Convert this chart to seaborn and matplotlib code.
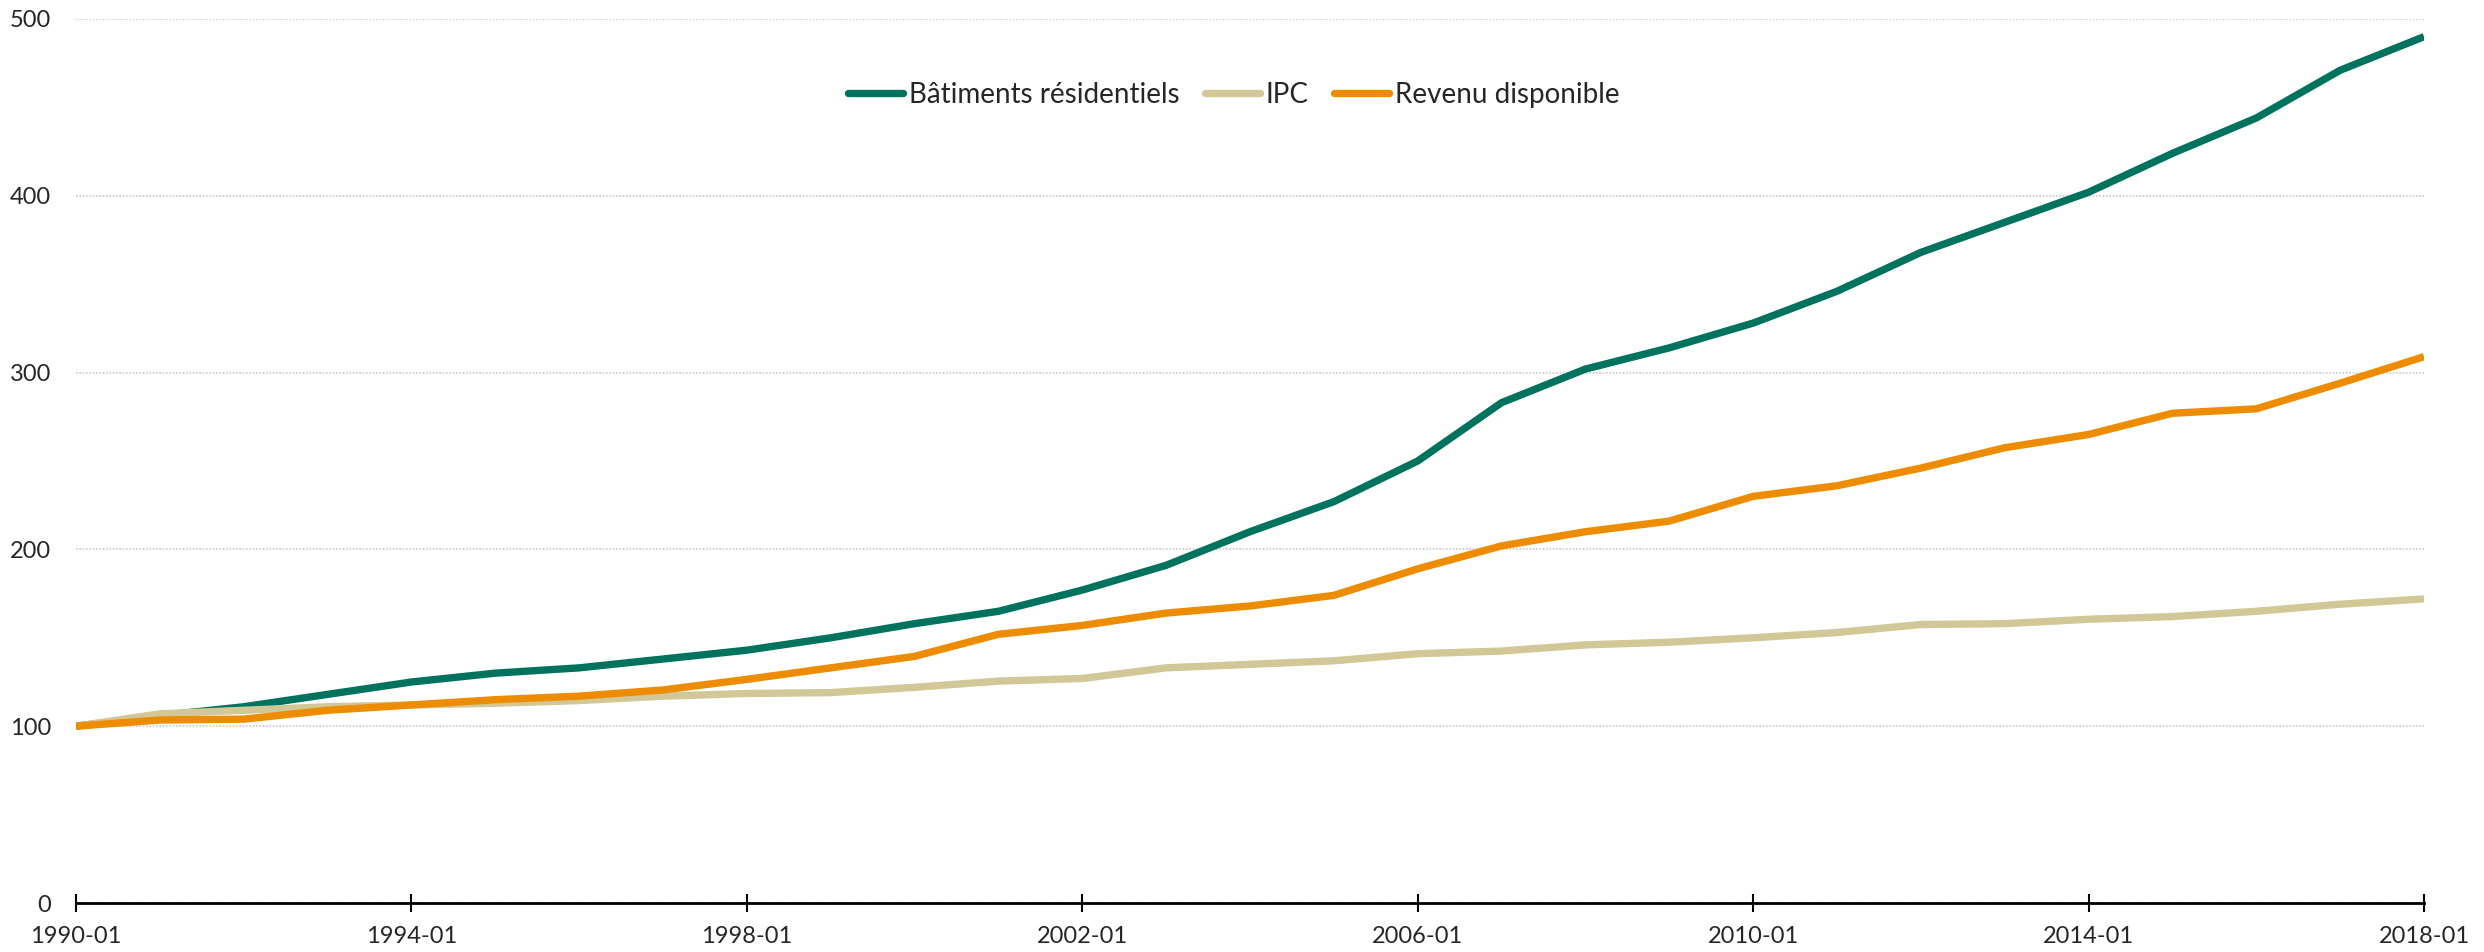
import matplotlib
matplotlib.use("Agg")
import matplotlib.pyplot as plt
import seaborn as sns
import pandas as pd

years = list(range(1990, 2019))

batiments = [100, 106, 111, 118, 125, 130, 133, 138, 143, 150, 158, 165, 177, 191,
             210, 227, 250, 283, 302, 314, 328, 346, 368, 385, 402, 424, 444, 471, 490]
ipc = [100, 107, 109, 111, 112, 113, 114.5, 117, 118.5, 119, 122, 125.5, 127, 133,
       135, 137, 141, 142.5, 146, 147.5, 150, 153, 157.5, 158, 160.5, 162, 165, 169, 172]
revenu = [100, 103.5, 104, 109, 112, 115, 117, 120.5, 126.5, 133, 139.5, 152, 157, 164,
          168, 174, 189, 202, 210, 216, 230, 236, 246, 257.5, 265, 277, 279.5, 294, 309]

series_names = ["Bâtiments résidentiels", "IPC", "Revenu disponible"]
colors = ["#00735F", "#D1C797", "#EE8C00"]
x_ticks = [1990, 1994, 1998, 2002, 2006, 2010, 2014, 2018]
x_labels = [f"{y}-01" for y in x_ticks]
y_ticks = [0, 100, 200, 300, 400, 500]

df = pd.DataFrame({"annee": years,
                   series_names[0]: batiments,
                   series_names[1]: ipc,
                   series_names[2]: revenu})
long = df.melt(id_vars="annee", var_name="serie", value_name="indice")

sns.set_style("white")
plt.rcParams["font.family"] = ["Lato", "DejaVu Sans"]

fig = plt.figure(figsize=(24.84, 9.52), dpi=100)
ax = fig.add_axes([76 / 2484, 1 - 903 / 952, 2348 / 2484, 884 / 952])

sns.lineplot(data=long, x="annee", y="indice", hue="serie", hue_order=series_names,
             palette=colors, linewidth=5.3, ax=ax, solid_capstyle="butt")

ax.set_xlim(1990, 2018)
ax.set_ylim(0, 500)
ax.set_xticks(x_ticks)
ax.set_xticklabels(x_labels)
ax.set_yticks(y_ticks)
ax.set_xlabel("")
ax.set_ylabel("")

ax.grid(axis="y", color="#C8C8C8", linestyle=(0, (1, 1)), linewidth=1.2)
ax.set_axisbelow(True)
for side in ["left", "right", "top"]:
    ax.spines[side].set_visible(False)
ax.spines["bottom"].set_color("black")
ax.spines["bottom"].set_linewidth(2)

ax.tick_params(axis="x", bottom=True, direction="inout", length=13, width=1.5,
               color="black", labelsize=17, pad=10)
ax.tick_params(axis="y", left=False, length=0, labelsize=17, pad=18)

leg = ax.legend(loc="center", bbox_to_anchor=(0.493, 0.914), ncol=3, frameon=False,
                fontsize=20, handlelength=2.0, handletextpad=0.2, columnspacing=0.9)
for line in leg.get_lines():
    line.set_linewidth(5.3)
    line.set_solid_capstyle("round")

fig.savefig("out.png", dpi=100)
